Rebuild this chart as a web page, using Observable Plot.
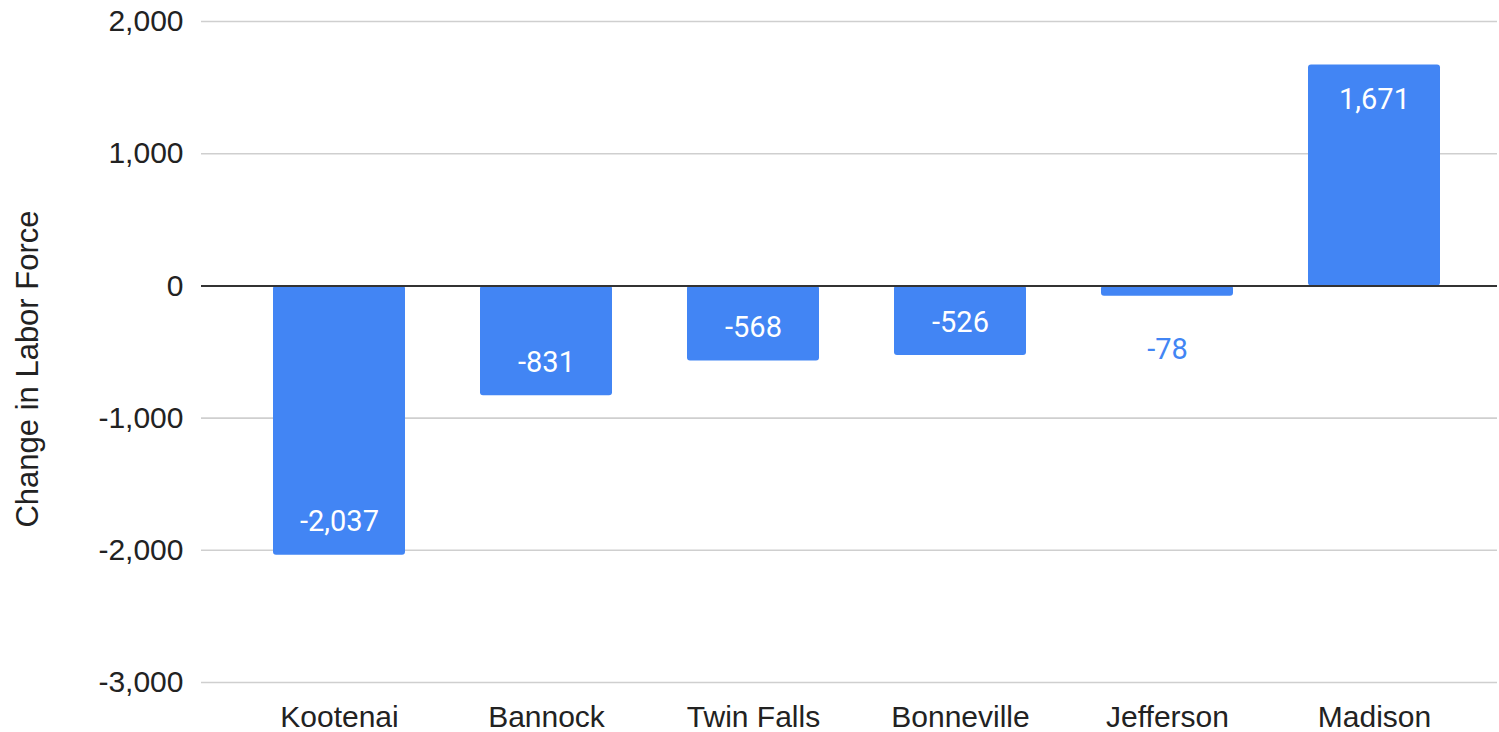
<!DOCTYPE html>
<html>
<head>
<meta charset="utf-8">
<script src="https://cdn.jsdelivr.net/npm/d3@7"></script>
<script src="https://cdn.jsdelivr.net/npm/@observablehq/plot@0.6"></script>
<style>
  html, body { margin: 0; padding: 0; background: #fff; }
</style>
</head>
<body>
<div id="chart"></div>
<script>
const counties = ["Kootenai", "Bannock", "Twin Falls", "Bonneville", "Jefferson", "Madison"];
const changes = [-2037, -831, -568, -526, -78, 1671];
const yTicks = [-3000, -2000, -1000, 0, 1000, 2000];
const yLabel = "Change in Labor Force";

const data = counties.map((c, i) => ({county: c, value: changes[i]}));
const fmt = v => v.toLocaleString("en-US");
const blue = "#4285F4";
const fits = d => Math.abs(d.value) >= 300;

const chart = Plot.plot({
  width: 1499,
  height: 732,
  marginLeft: 201,
  marginRight: 2,
  marginTop: 21,
  marginBottom: 50,
  style: {fontFamily: "'Liberation Sans', Arial, sans-serif", fontSize: "30px", color: "#222", background: "#fff"},
  x: {domain: counties, range: [235.4, 1478.6], paddingInner: 0.36, paddingOuter: 0.18},
  y: {domain: [-3000, 2000]},
  marks: [
    Plot.ruleY(yTicks.filter(t => t !== 0), {stroke: "#cfcfcf", strokeWidth: 1.6}),
    Plot.barY(data, {x: "county", y: "value", fill: blue, rx: 3}),
    Plot.ruleY([0], {stroke: "#333", strokeWidth: 2}),
    Plot.text(data.filter(d => fits(d) && d.value < 0), {x: "county", y: "value", text: d => fmt(d.value), dy: -33, fill: "#fff", fontSize: 29, fontFamily: "Roboto, sans-serif"}),
    Plot.text(data.filter(d => fits(d) && d.value > 0), {x: "county", y: "value", text: d => fmt(d.value), dy: 35, fill: "#fff", fontSize: 29, fontFamily: "Roboto, sans-serif"}),
    Plot.text(data.filter(d => !fits(d)), {x: "county", y: "value", text: d => fmt(d.value), dy: 54, fill: blue, fontSize: 29, fontFamily: "Roboto, sans-serif"}),
    Plot.axisY({ticks: yTicks, tickFormat: fmt, tickSize: 0, tickPadding: 18, label: null, fontSize: 30}),
    Plot.axisX({tickSize: 0, tickPadding: 23, label: null, fontSize: 30}),
    Plot.text([yLabel], {frameAnchor: "left", textAnchor: "middle", text: d => d, rotate: -90, dx: -173, dy: 17, fontSize: 31, fill: "#222"})
  ]
});
document.getElementById("chart").appendChild(chart);
</script>
</body>
</html>
